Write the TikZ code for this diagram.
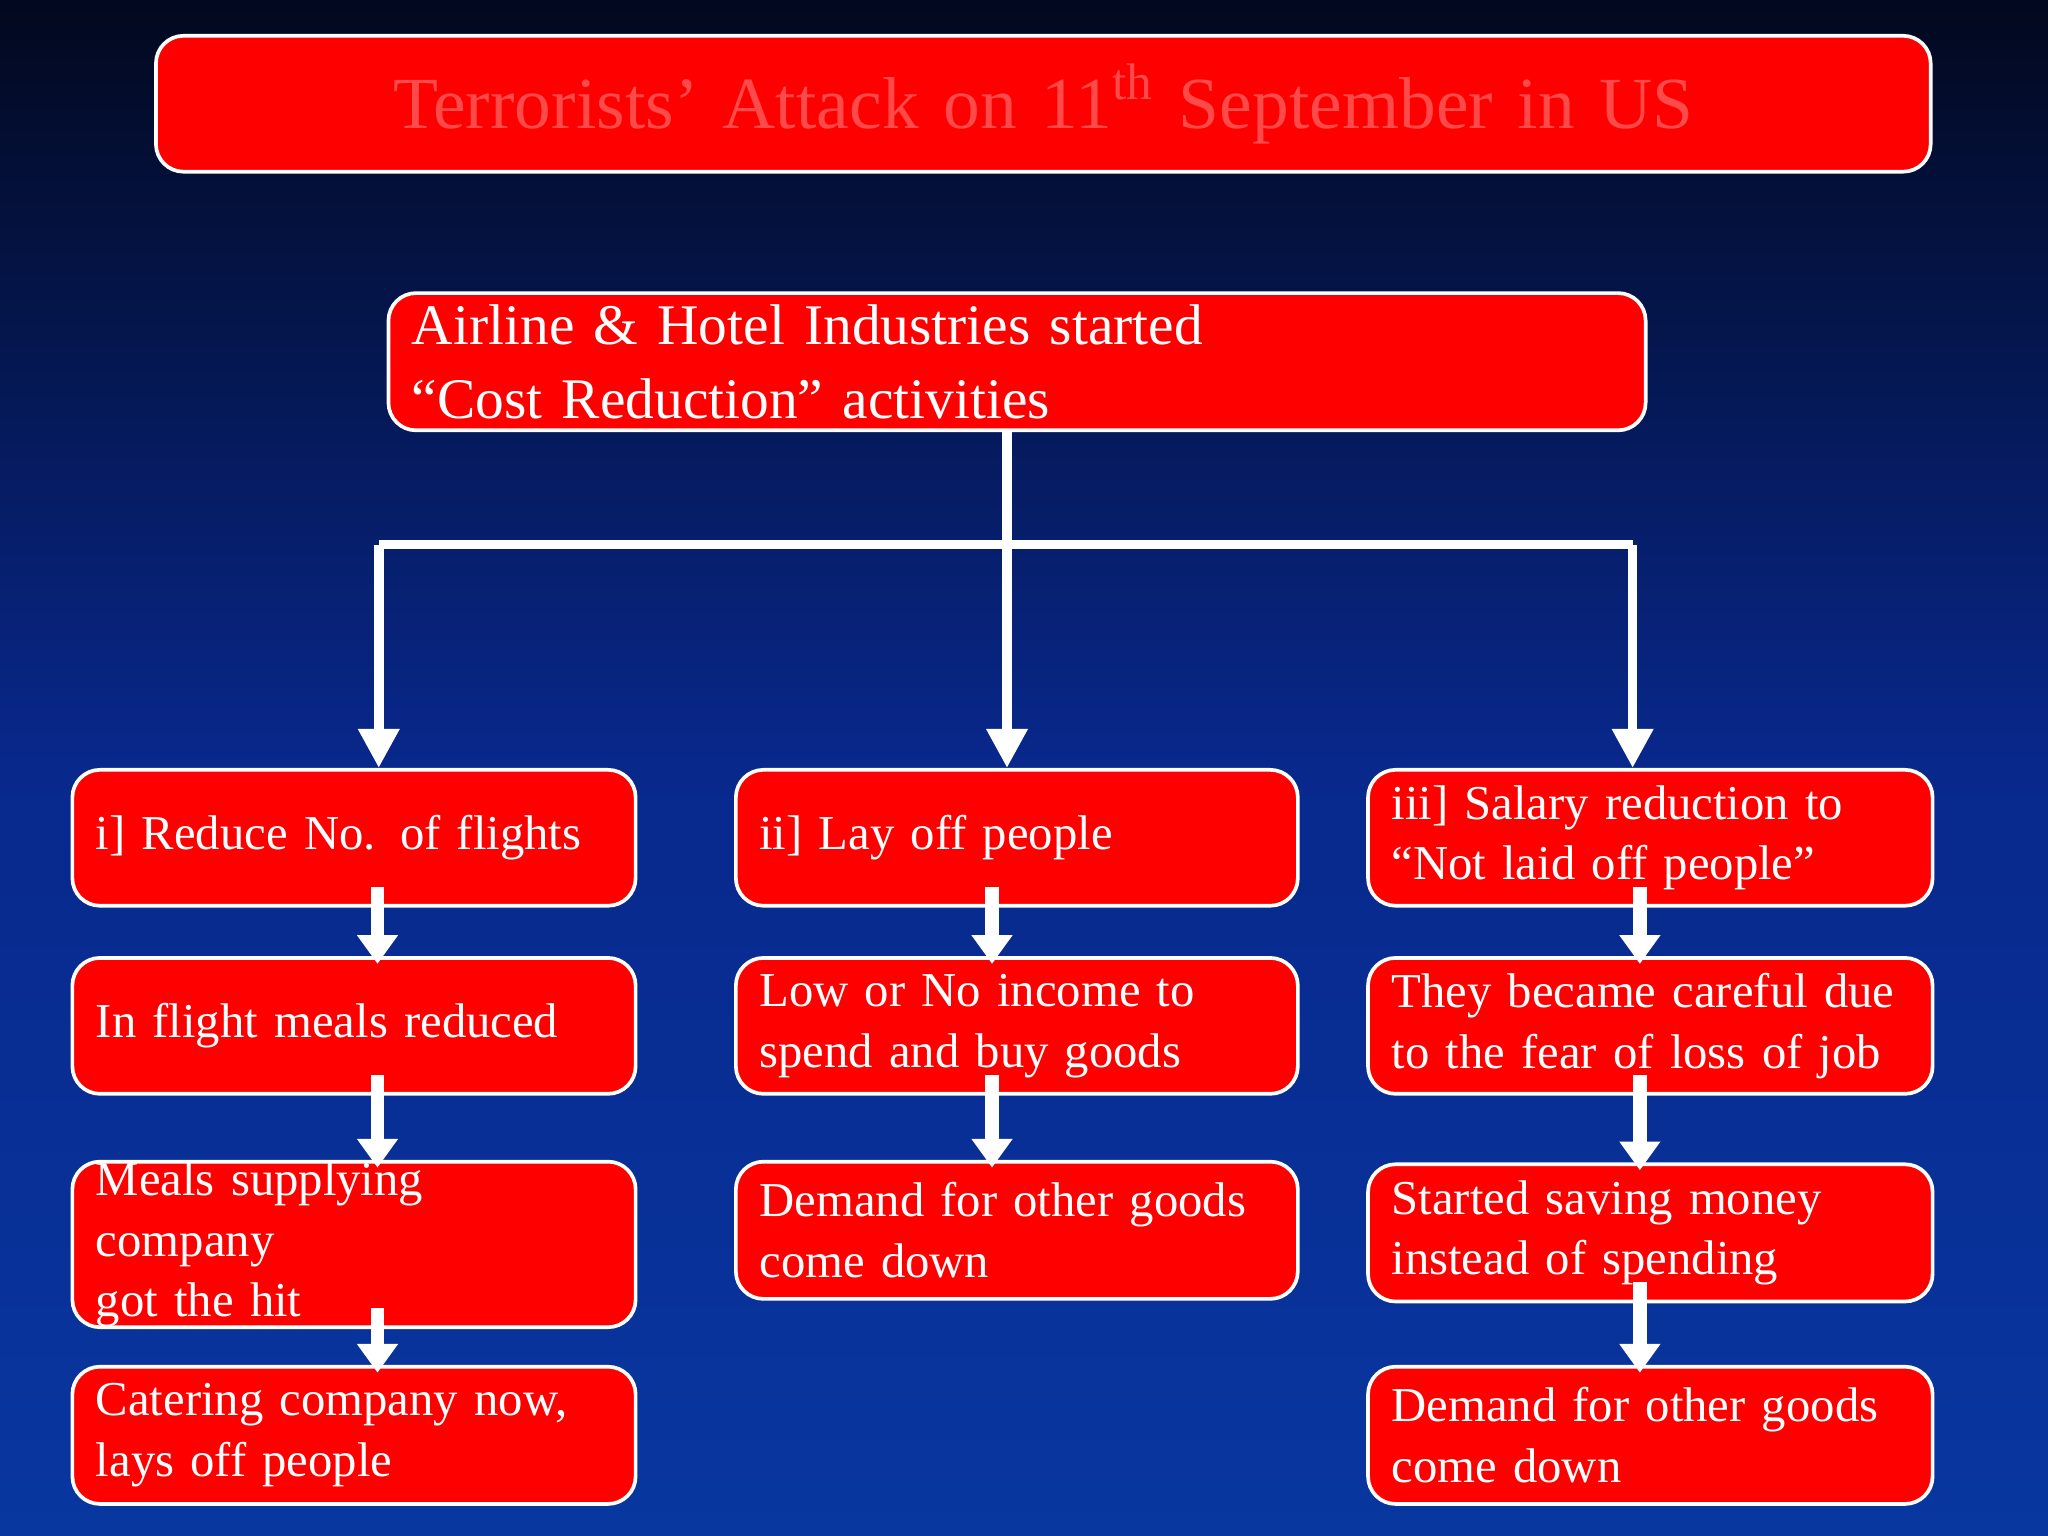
\documentclass[tikz,border=0pt]{standalone}
\usepackage{fontspec}
\setmainfont{Liberation Serif}
\usetikzlibrary{arrows.meta,calc}
\definecolor{boxred}{HTML}{FF0000}
\definecolor{titlered}{HTML}{FF4A4A}
\hyphenpenalty=10000
\exhyphenpenalty=10000
\begin{document}
\begin{tikzpicture}[x=0.01cm,y=-0.01cm,
  rbox/.style={draw=white,line width=0.8pt,fill=boxred,rounded corners=6pt,anchor=north west,
    text=white,align=left,inner xsep=0.18cm,inner ysep=0pt,font=\fontsize{10.6}{13.2}\selectfont},
  bigarr/.style={draw=white,line width=2.1pt,-{Triangle[width=0.3cm,length=0.3cm]}},
  smarr/.style={draw=white,line width=3pt,-{Triangle[width=0.3cm,length=0.22cm]}},
  wline/.style={draw=white,line width=2.1pt}]
\shade[top color={rgb,255:red,2;green,8;blue,30},bottom color={rgb,255:red,8;green,55;blue,160},middle color={rgb,255:red,8;green,40;blue,140}] (0,0) rectangle (1568,1176);
\node[rbox,minimum width=13.58cm,minimum height=1.04cm,text width=13.2cm,align=center,text=titlered,font=\fontsize{16}{19}\selectfont] (title) at (118,26) {Terrorists' Attack on 11\textsuperscript{th} September in US};
\node[rbox,minimum width=9.62cm,minimum height=1.05cm,text width=9.26cm,font=\fontsize{12.5}{16}\selectfont] (top) at (296,223) {Airline \& Hotel Industries started\\``Cost Reduction'' activities};
% column 1
\node[rbox,minimum width=4.31cm,minimum height=1.04cm,text width=3.95cm] (a1) at (54,588) {i] Reduce No. of flights};
\node[rbox,minimum width=4.31cm,minimum height=1.04cm,text width=3.95cm] (a2) at (54,732) {In flight meals reduced};
\node[rbox,minimum width=4.31cm,minimum height=1.05cm,text width=3.95cm] (a3) at (54,888) {Meals supplying company\\got the hit};
\node[rbox,minimum width=4.31cm,minimum height=1.05cm,text width=3.95cm] (a4) at (54,1045) {Catering company now,\\lays off people};
% column 2
\node[rbox,minimum width=4.30cm,minimum height=1.04cm,text width=3.94cm] (b1) at (562,588) {ii] Lay off people};
\node[rbox,minimum width=4.30cm,minimum height=1.04cm,text width=3.94cm] (b2) at (562,732) {Low or No income to\\spend and buy goods};
\node[rbox,minimum width=4.30cm,minimum height=1.05cm,text width=3.94cm] (b3) at (562,888) {Demand for other goods\\come down};
% column 3
\node[rbox,minimum width=4.32cm,minimum height=1.04cm,text width=3.96cm] (c1) at (1046,588) {iii] Salary reduction to\\``Not laid off people''};
\node[rbox,minimum width=4.32cm,minimum height=1.04cm,text width=3.96cm] (c2) at (1046,732) {They became careful due\\to the fear of loss of job};
\node[rbox,minimum width=4.32cm,minimum height=1.05cm,text width=3.96cm] (c3) at (1046,890) {Started saving money\\instead of spending};
\node[rbox,minimum width=4.32cm,minimum height=1.05cm,text width=3.96cm] (c4) at (1046,1045) {Demand for other goods\\come down};
% tree connectors
\coordinate (j) at (771,417);
\coordinate (jl) at (290,417);
\coordinate (jr) at (1250,417);
\draw[wline] (top.south -| j) -- (j);
\draw[wline] (jl) -- (jr);
\draw[bigarr] (jl) -- (jl |- a1.north);
\draw[bigarr] (j) -- (j |- b1.north);
\draw[bigarr] (jr) -- (jr |- b1.north);
% small arrows
\foreach \u/\v/\dx in {a1/a2/18,a2/a3/18,a3/a4/18,b1/b2/-19,b2/b3/-19,c1/c2/-8,c2/c3/-8,c3/c4/-8}
  \draw[smarr] ($(\u.south)+(\dx,-16)$) -- ($(\v.north)+(\dx,6)$);
\end{tikzpicture}
\end{document}
